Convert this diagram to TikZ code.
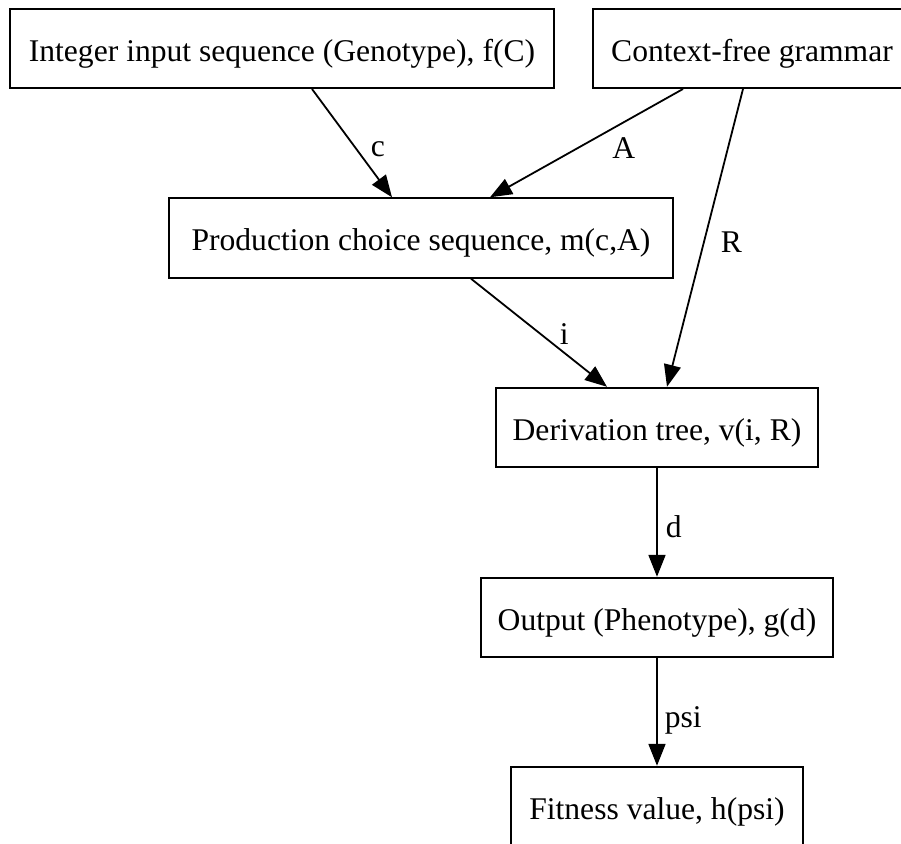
\documentclass[tikz,border=0pt]{standalone}
\usepackage{fontspec}
\setmainfont{Liberation Serif}
\usetikzlibrary{arrows.meta,calc}
\tikzset{
  box/.style={draw, line width=1pt, minimum height=39.7pt, inner sep=0pt, text height=14pt, text depth=1.2pt},
  arr/.style={line width=0.9pt, -{Triangle[length=11pt,width=8.5pt]}},
  lbl/.style={inner sep=0pt, anchor=west}
}
\begin{document}
\begin{tikzpicture}[x=0.5pt,y=-0.5pt,font=\fontsize{15.8}{19}\selectfont]
\useasboundingbox (0,0) rectangle (901,844);
\node[box, minimum width=272pt] (int) at (282,48.3) {Integer input sequence (Genotype), f(C)};
\node[box, minimum width=159pt] (cfg) at (752,48.3) {Context-free grammar};
\node[box, minimum width=252pt] (prod) at (421,238) {Production choice sequence, m(c,A)};
\node[box, minimum width=161pt] (deriv) at (657,427.5) {Derivation tree, v(i, R)};
\node[box, minimum width=176pt] (out) at (657,617.5) {Output (Phenotype), g(d)};
\node[box, minimum width=146pt] (fit) at (657,806.5) {Fitness value, h(psi)};
% edge ends on the box borders
\coordinate[] (cS) at ($(int.south)+(30,0)$);
\coordinate[] (cE) at ($(prod.north)+(-29,0)$);
\coordinate[] (AS) at ($(cfg.south)+(-69,0)$);
\coordinate[] (AE) at ($(prod.north)+(69,0)$);
\coordinate[] (RS) at ($(cfg.south)+(-9,0)$);
\coordinate[] (RE) at ($(deriv.north)+(10,0)$);
\coordinate[] (iS) at ($(prod.south)+(50,0)$);
\coordinate[] (iE) at ($(deriv.north)+(-50,0)$);
\draw[arr] (cS) to node[lbl, pos=.555, xshift=6.8pt] (lc) {c} (cE);
\draw[arr] (AS) to node[lbl, pos=.55, xshift=17.3pt] (lA) {A} (AE);
\draw[arr] (RS) to node[lbl, pos=.513, xshift=8pt] (lR) {R} (RE);
\draw[arr] (iS) to node[lbl, pos=.51, xshift=9.3pt] (li) {i} (iE);
\draw[arr] (deriv) to node[lbl, pos=.536, xshift=4pt] (ld) {d} (out);
\draw[arr] (out) to node[lbl, pos=.58, xshift=3.5pt] (lpsi) {psi} (fit);
\end{tikzpicture}
\end{document}
